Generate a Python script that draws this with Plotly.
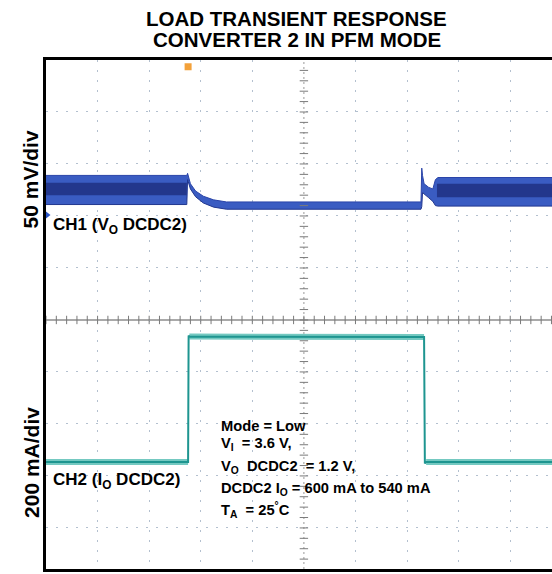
import numpy as np
import plotly.graph_objects as go

# ---- data (screen divisions: x = time div, y = vertical div) ----
# CH1 (VO DCDC2) ripple envelope
ch1_x     = [-5.0, -2.27, -2.255, -2.2, -2.1, -1.95, -1.75, -1.5, 2.27, 2.285, 2.30, 2.33, 2.42, 2.50, 2.55, 2.60, 4.81]
ch1_upper = [2.78, 2.78, 2.82, 2.62, 2.48, 2.38, 2.31, 2.27, 2.27, 2.92, 2.78, 2.62, 2.55, 2.52, 2.70, 2.74, 2.74]
ch1_lower = [2.22, 2.22, 2.70, 2.52, 2.37, 2.25, 2.17, 2.13, 2.13, 2.18, 2.45, 2.42, 2.35, 2.28, 2.20, 2.19, 2.19]
# CH1 darker ripple core (ripple regions only)
core_pre_x = [-5.0, -2.27]
core_pre_hi = [2.64, 2.64]
core_pre_lo = [2.40, 2.40]
core_post_x = [2.58, 4.81]
core_post_hi = [2.62, 2.62]
core_post_lo = [2.36, 2.36]

# CH2 (IO DCDC2) load current
ch2_x = [-5.0, -2.245, -2.235, -2.22, 2.33, 2.345, 2.37, 4.81]
ch2_y = [-2.73, -2.73, -0.30, -0.32, -0.33, -2.76, -2.73, -2.73]

x_range = [-5.0, 4.81]
y_range = [-4.79, 5.0]

fig = go.Figure()

# CH1 envelope
fig.add_trace(go.Scatter(x=ch1_x, y=ch1_lower, mode="lines",
                         line=dict(color="#22378f", width=1), showlegend=False, hoverinfo="skip"))
fig.add_trace(go.Scatter(x=ch1_x, y=ch1_upper, mode="lines", fill="tonexty",
                         fillcolor="#3a5cc2", line=dict(color="#2a44a8", width=1),
                         showlegend=False, hoverinfo="skip"))
for cx, hi, lo in [(core_pre_x, core_pre_hi, core_pre_lo), (core_post_x, core_post_hi, core_post_lo)]:
    fig.add_trace(go.Scatter(x=cx, y=lo, mode="lines", line=dict(width=0, color="#1b2c78"),
                             showlegend=False, hoverinfo="skip"))
    fig.add_trace(go.Scatter(x=cx, y=hi, mode="lines", fill="tonexty", fillcolor="#23378c",
                             line=dict(width=0, color="#1b2c78"), showlegend=False, hoverinfo="skip"))

# CH2 halo on flat parts, then core line
halo_x = [ch2_x[0], ch2_x[1], None, ch2_x[3], ch2_x[4], None, ch2_x[6], ch2_x[7]]
halo_y = [ch2_y[0], ch2_y[1], None, ch2_y[3], ch2_y[4], None, ch2_y[6], ch2_y[7]]
fig.add_trace(go.Scatter(x=halo_x, y=halo_y, mode="lines", line=dict(color="#74c9c1", width=6),
                         showlegend=False, hoverinfo="skip"))
fig.add_trace(go.Scatter(x=ch2_x, y=ch2_y, mode="lines", line=dict(color="#1e9590", width=2),
                         showlegend=False, hoverinfo="skip"))

# graticule centre lines with minor ticks
gx = np.arange(-5.0, 4.81, 0.2)
gy = np.arange(-4.8, 5.0, 0.2)
fig.add_shape(type="line", x0=x_range[0], x1=x_range[1], y0=0, y1=0,
              line=dict(color="#8c8c8c", width=1.5), layer="below")
fig.add_shape(type="line", x0=0, x1=0, y0=y_range[0], y1=y_range[1],
              line=dict(color="#9a9a9a", width=1, dash="2px,3px"), layer="below")
fig.add_trace(go.Scatter(x=gx, y=[0] * len(gx), mode="markers",
                         marker=dict(symbol="line-ns", size=6, line=dict(color="#7a7a7a", width=1)),
                         showlegend=False, hoverinfo="skip"))
fig.add_trace(go.Scatter(x=[0] * len(gy), y=gy, mode="markers",
                         marker=dict(symbol="line-ew", size=6, line=dict(color="#7a7a7a", width=1)),
                         showlegend=False, hoverinfo="skip"))

# channel / trigger markers
fig.add_trace(go.Scatter(x=[-5.0], y=[2.02], mode="markers", cliponaxis=False,
                         marker=dict(symbol="triangle-right", size=9, color="#2a55c8"),
                         showlegend=False, hoverinfo="skip"))
fig.add_trace(go.Scatter(x=[-2.245], y=[4.87], mode="markers", cliponaxis=False,
                         marker=dict(symbol="square", size=7, color="#f3a13a"),
                         showlegend=False, hoverinfo="skip"))

FONT = "Liberation Sans, Arial, sans-serif"
ann = []
def txt(text, x, y, size, xanchor="left", xref="x", yref="y", angle=0):
    ann.append(dict(text=text, x=x, y=y, xref=xref, yref=yref, xanchor=xanchor, yanchor="middle",
                    showarrow=False, textangle=angle,
                    font=dict(family=FONT, size=size, color="#000000")))

# titles
txt("<b>LOAD TRANSIENT RESPONSE</b>", 0.496, 1.081, 20.5, xanchor="center", xref="paper", yref="paper")
txt("<b>CONVERTER 2 IN PFM MODE</b>", 0.496, 1.040, 20.5, xanchor="center", xref="paper", yref="paper")
# axis scale labels
txt("<b>50 mV/div</b>", -0.03, 0.765, 21, xanchor="center", xref="paper", yref="paper", angle=-90)
txt("<b>200 mA/div</b>", -0.03, 0.21, 21, xanchor="center", xref="paper", yref="paper", angle=-90)
# channel labels
txt("<b>CH1 (V<sub>O</sub> DCDC2)</b>", -4.90, 1.81, 17)
txt("<b>CH2 (I<sub>O</sub> DCDC2)</b>", -4.90, -3.1, 17)
# conditions block
bx = -1.65
txt("<b>Mode = Low</b>", bx, -2.04, 14.7)
txt("<b>V<sub>I</sub>  = 3.6 V,</b>", bx, -2.38, 14.7)
txt("<b>V<sub>O</sub>  DCDC2  = 1.2 V,</b>", bx, -2.83, 14.7)
txt("<b>DCDC2 I<sub>O</sub> = 600 mA to 540 mA</b>", bx, -3.25, 14.7)
txt("<b>T<sub>A</sub>  = 25<sup>°</sup>C</b>", bx, -3.66, 14.7)

fig.update_layout(
    width=552, height=574,
    margin=dict(l=46, r=0, t=60, b=5),
    paper_bgcolor="white", plot_bgcolor="white",
    showlegend=False, annotations=ann,
    xaxis=dict(range=x_range, showgrid=True, tickvals=[-4, -3, -2, -1, 1, 2, 3, 4],
               gridcolor="#b3c0cf", griddash="2px,8px", gridwidth=1,
               showticklabels=False, ticks="", zeroline=False,
               showline=True, mirror=True, linecolor="black", linewidth=3),
    yaxis=dict(range=y_range, showgrid=True, tickvals=[-4, -3, -2, -1, 1, 2, 3, 4],
               gridcolor="#b3c0cf", griddash="2px,8px", gridwidth=1,
               showticklabels=False, ticks="", zeroline=False,
               showline=True, mirror=False, linecolor="black", linewidth=3),
)

fig.write_html("out.html", config={"displayModeBar": False},
               post_script="document.body.style.margin='0';document.body.style.overflow='hidden';")
